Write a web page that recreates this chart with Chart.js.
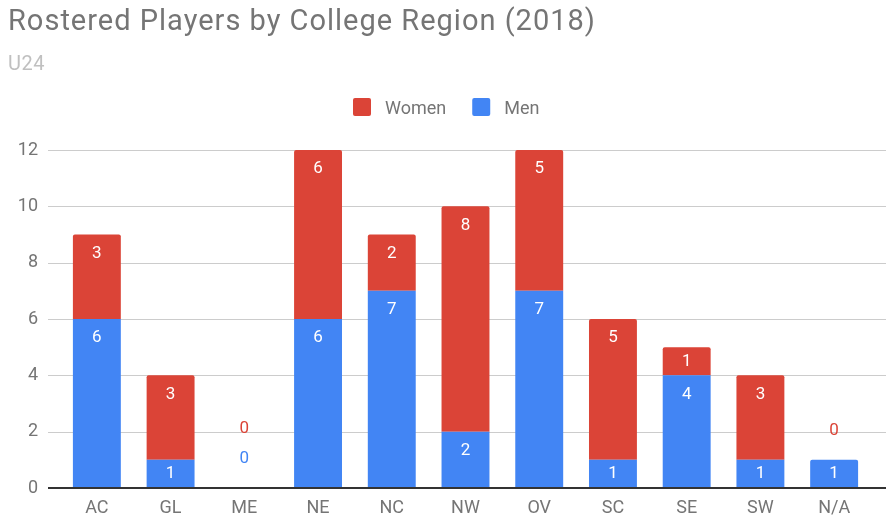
<!DOCTYPE html>
<html>
<head>
<meta charset="utf-8">
<script src="https://cdn.jsdelivr.net/npm/chart.js@4.4.1/dist/chart.umd.min.js"></script>
<style>
  html, body { margin: 0; padding: 0; background: #fff; }
</style>
</head>
<body>
<canvas id="chart" width="886" height="530"></canvas>
<script>
const categories = ['AC', 'GL', 'ME', 'NE', 'NC', 'NW', 'OV', 'SC', 'SE', 'SW', 'N/A'];
const menValues = [6, 1, 0, 6, 7, 2, 7, 1, 4, 1, 1];
const womenValues = [3, 3, 0, 6, 2, 8, 5, 5, 1, 3, 0];
const yTicks = [0, 2, 4, 6, 8, 10, 12];

const RED = '#db4437';
const BLUE = '#4285f4';
const GREY = '#757575';
const FONT = 'Roboto, "Noto Sans", sans-serif';

// title, subtitle and legend, drawn Google-Sheets style
const headerPlugin = {
    id: 'header',
    afterDraw(chart) {
        const ctx = chart.ctx;
        ctx.save();
        ctx.textBaseline = 'alphabetic';
        ctx.textAlign = 'left';
        ctx.fillStyle = GREY;
        ctx.font = '29px ' + FONT;
        ctx.letterSpacing = '1px';
        ctx.fillText('Rostered Players by College Region (2018)', 8, 30);
        ctx.fillStyle = '#c0c0c0';
        ctx.font = '20px ' + FONT;
        ctx.letterSpacing = '0.5px';
        ctx.fillText('U24', 8, 70);
        ctx.letterSpacing = '0px';

        // legend: top series first, centred
        ctx.font = '18px ' + FONT;
        const order = [1, 0];
        const box = 18, gapText = 14, gapItem = 26;
        let total = 0;
        order.forEach((idx, k) => {
            total += box + gapText + ctx.measureText(chart.data.datasets[idx].label).width;
            if (k < order.length - 1) total += gapItem;
        });
        let x = Math.round(446 - total / 2);
        order.forEach(idx => {
            const ds = chart.data.datasets[idx];
            ctx.fillStyle = ds.backgroundColor;
            ctx.beginPath();
            ctx.roundRect(x, 98, box, box, 2);
            ctx.fill();
            ctx.fillStyle = GREY;
            ctx.fillText(ds.label, x + box + gapText, 114);
            x += box + gapText + ctx.measureText(ds.label).width + gapItem;
        });
        ctx.restore();
    }
};

// horizontal gridlines across the full width
const gridPlugin = {
    id: 'grid',
    beforeDatasetsDraw(chart) {
        const ctx = chart.ctx;
        const y = chart.scales.y;
        ctx.save();
        ctx.strokeStyle = '#cccccc';
        ctx.lineWidth = 1;
        yTicks.forEach(v => {
            if (v === 0) return;
            const py = Math.round(y.getPixelForValue(v)) + 0.5;
            ctx.beginPath();
            ctx.moveTo(48, py);
            ctx.lineTo(886, py);
            ctx.stroke();
        });
        ctx.restore();
    },
    afterDatasetsDraw(chart) {
        const ctx = chart.ctx;
        const py = chart.scales.y.getPixelForValue(0);
        ctx.save();
        ctx.strokeStyle = '#333333';
        ctx.lineWidth = 2;
        ctx.beginPath();
        ctx.moveTo(48, py);
        ctx.lineTo(886, py);
        ctx.stroke();
        ctx.restore();
    }
};

// value labels; zero values are shown in series colour above the stack
const labelPlugin = {
    id: 'labels',
    afterDatasetsDraw(chart) {
        const ctx = chart.ctx;
        ctx.save();
        ctx.font = '17px ' + FONT;
        ctx.textAlign = 'center';
        ctx.textBaseline = 'middle';
        categories.forEach((c, i) => {
            let zeros = 0;
            chart.data.datasets.forEach((ds, d) => {
                const bar = chart.getDatasetMeta(d).data[i];
                const v = ds.data[i];
                if (v > 0) {
                    const h = bar.base - bar.y;
                    ctx.fillStyle = '#ffffff';
                    ctx.fillText(String(v), bar.x, bar.y + Math.min(19, h / 2));
                } else {
                    ctx.fillStyle = ds.backgroundColor;
                    ctx.fillText(String(v), bar.x, bar.y - 29 - zeros * 30);
                    zeros++;
                }
            });
        });
        ctx.restore();
    }
};

new Chart(document.getElementById('chart'), {
    type: 'bar',
    data: {
        labels: categories,
        datasets: [
            { label: 'Men', data: menValues, backgroundColor: BLUE, borderRadius: 2, barPercentage: 0.65, categoryPercentage: 1 },
            { label: 'Women', data: womenValues, backgroundColor: RED, borderRadius: 2, barPercentage: 0.65, categoryPercentage: 1 }
        ]
    },
    options: {
        responsive: false,
        animation: false,
        layout: { padding: { left: 0, right: 15, top: 150, bottom: 0 } },
        plugins: {
            legend: { display: false },
            tooltip: { enabled: false }
        },
        scales: {
            x: {
                stacked: true,
                grid: { display: false, drawTicks: false },
                border: { display: false },
                ticks: { color: GREY, font: { family: FONT, size: 18 }, padding: 10 },
                afterFit(scale) { scale.height = 42; }
            },
            y: {
                stacked: true,
                min: 0,
                max: 12,
                grid: { display: false, drawTicks: false },
                border: { display: false },
                ticks: { stepSize: 2, color: GREY, font: { family: FONT, size: 18 }, padding: 22 },
                afterFit(scale) { scale.width = 60; }
            }
        }
    },
    plugins: [gridPlugin, labelPlugin, headerPlugin]
});
</script>
</body>
</html>
